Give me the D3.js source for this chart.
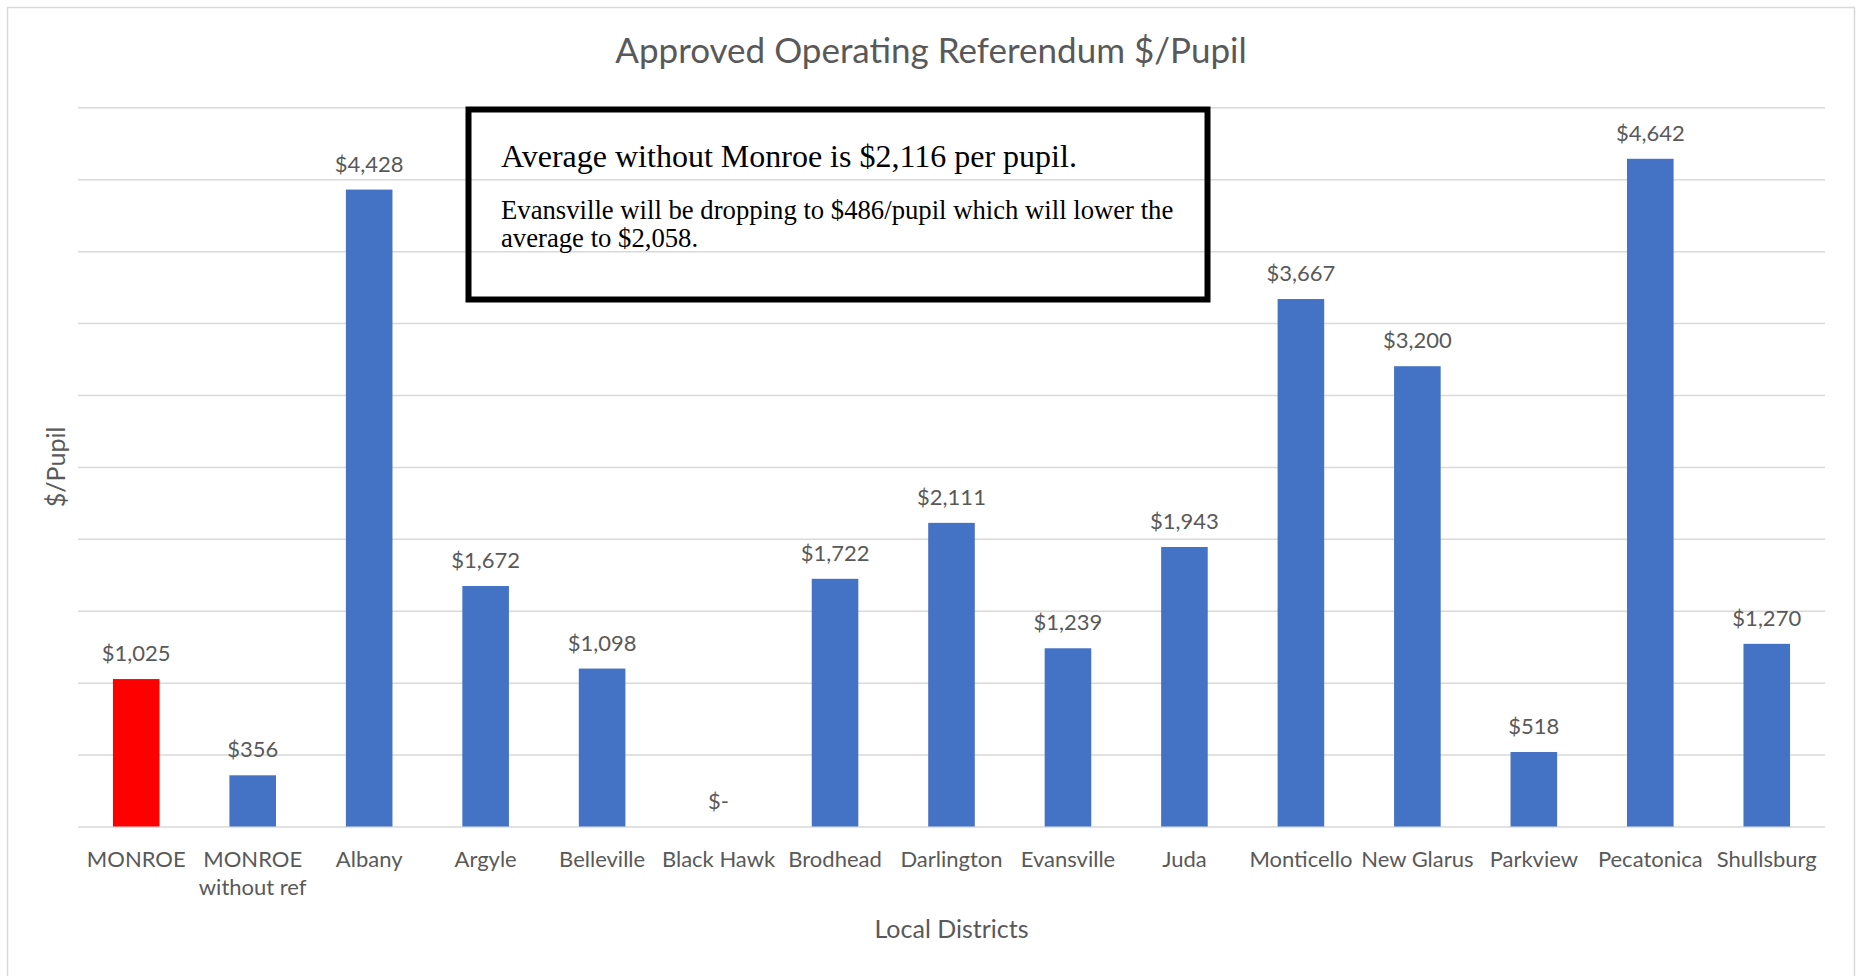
<!DOCTYPE html>
<html>
<head>
<meta charset="utf-8">
<script src="https://cdn.jsdelivr.net/npm/d3@7"></script>
<style>
  html, body { margin: 0; padding: 0; background: #fff; }
  svg { display: block; }
  text { font-family: Lato, "Open Sans", sans-serif; fill: #595959; }
  .note { font-family: "Liberation Serif", "Times New Roman", serif; fill: #000; }
</style>
</head>
<body>
<svg id="canvas" width="1860" height="976"></svg>
<script>
// data
const districts = ["MONROE", "MONROE without ref", "Albany", "Argyle", "Belleville", "Black Hawk",
    "Brodhead", "Darlington", "Evansville", "Juda", "Monticello", "New Glarus", "Parkview",
    "Pecatonica", "Shullsburg"];
const perPupil = [1025, 356, 4428, 1672, 1098, 0, 1722, 2111, 1239, 1943, 3667, 3200, 518, 4642, 1270];
const highlighted = ["MONROE"];
const yTicks = [0, 500, 1000, 1500, 2000, 2500, 3000, 3500, 4000, 4500, 5000];
const noteHeadline = "Average without Monroe is $2,116 per pupil.";
const noteLines = ["Evansville will be dropping to $486/pupil which will lower the", "average to $2,058."];

const plot = { left: 78, right: 1825, top: 107.3, bottom: 826.5 };

const svg = d3.select("#canvas");

// outer chart frame
svg.append("rect")
    .attr("x", 7.5).attr("y", 7.5)
    .attr("width", 1847).attr("height", 1000)
    .attr("fill", "#fff")
    .attr("stroke", "#d9d9d9")
    .attr("stroke-width", 1.5);

const x = d3.scaleBand()
    .domain(districts)
    .range([plot.left, plot.right])
    .paddingInner(0.6)
    .paddingOuter(0.3);

const y = d3.scaleLinear()
    .domain([0, 5000])
    .range([plot.bottom, plot.top]);

// gridlines
const grid = svg.append("g")
    .attr("transform", `translate(${plot.left},0)`)
    .call(d3.axisLeft(y).tickValues(yTicks).tickSize(-(plot.right - plot.left)).tickFormat(""));
grid.select(".domain").remove();
grid.selectAll("line").attr("stroke", "#d9d9d9").attr("stroke-width", 1.5);

// bars
svg.selectAll("rect.bar")
    .data(districts)
    .enter()
    .append("rect")
    .attr("class", "bar")
    .attr("x", d => x(d))
    .attr("width", x.bandwidth())
    .attr("y", (d, i) => y(perPupil[i]))
    .attr("height", (d, i) => y(0) - y(perPupil[i]))
    .attr("fill", d => highlighted.includes(d) ? "#ff0000" : "#4472c4");

// value labels
const fmt = v => v === 0 ? "$-" : "$" + d3.format(",")(v);
svg.selectAll("text.value")
    .data(districts)
    .enter()
    .append("text")
    .attr("class", "value")
    .attr("x", d => x(d) + x.bandwidth() / 2)
    .attr("y", (d, i) => y(perPupil[i]) - 18)
    .attr("text-anchor", "middle")
    .style("font-size", "22px")
    .text((d, i) => fmt(perPupil[i]));

// category axis
const xAxis = svg.append("g")
    .attr("transform", `translate(0,${plot.bottom})`)
    .call(d3.axisBottom(x).tickSize(0).tickPadding(0));
xAxis.select(".domain").remove();
xAxis.selectAll("text")
    .attr("y", 40)
    .attr("dy", null)
    .style("font-size", "22px")
    .style("fill", "#595959")
    .style("font-family", "Lato, sans-serif")
    .call(wrap, 125);

function wrap(texts, width) {
    texts.each(function() {
        const t = d3.select(this);
        const words = t.text().split(" ");
        const y0 = +t.attr("y");
        t.text(null);
        let line = [];
        let lineNo = 0;
        let tspan = t.append("tspan").attr("x", 0).attr("y", y0);
        words.forEach(w => {
            line.push(w);
            tspan.text(line.join(" "));
            if (tspan.node().getComputedTextLength() > width && line.length > 1) {
                line.pop();
                tspan.text(line.join(" "));
                line = [w];
                lineNo++;
                tspan = t.append("tspan").attr("x", 0).attr("y", y0 + lineNo * 28).text(w);
            }
        });
    });
}

// title
svg.append("text")
    .attr("x", 931)
    .attr("y", 63)
    .attr("text-anchor", "middle")
    .style("font-size", "35px")
    .text("Approved Operating Referendum $/Pupil");

// axis titles
svg.append("text")
    .attr("x", (plot.left + plot.right) / 2)
    .attr("y", 938)
    .attr("text-anchor", "middle")
    .style("font-size", "25px")
    .text("Local Districts");

svg.append("text")
    .attr("transform", `translate(65,${(plot.top + plot.bottom) / 2}) rotate(-90)`)
    .attr("text-anchor", "middle")
    .style("font-size", "25px")
    .text("$/Pupil");

// annotation box
svg.append("rect")
    .attr("x", 468.5).attr("y", 109.5)
    .attr("width", 739).attr("height", 190)
    .attr("fill", "none")
    .attr("stroke", "#000")
    .attr("stroke-width", 6);

svg.append("text")
    .attr("class", "note")
    .attr("x", 501).attr("y", 167)
    .style("font-size", "32px")
    .text(noteHeadline);

svg.selectAll("text.noteline")
    .data(noteLines)
    .enter()
    .append("text")
    .attr("class", "note noteline")
    .attr("x", 501)
    .attr("y", (d, i) => 219 + i * 28)
    .style("font-size", "26.7px")
    .text(d => d);
</script>
</body>
</html>
